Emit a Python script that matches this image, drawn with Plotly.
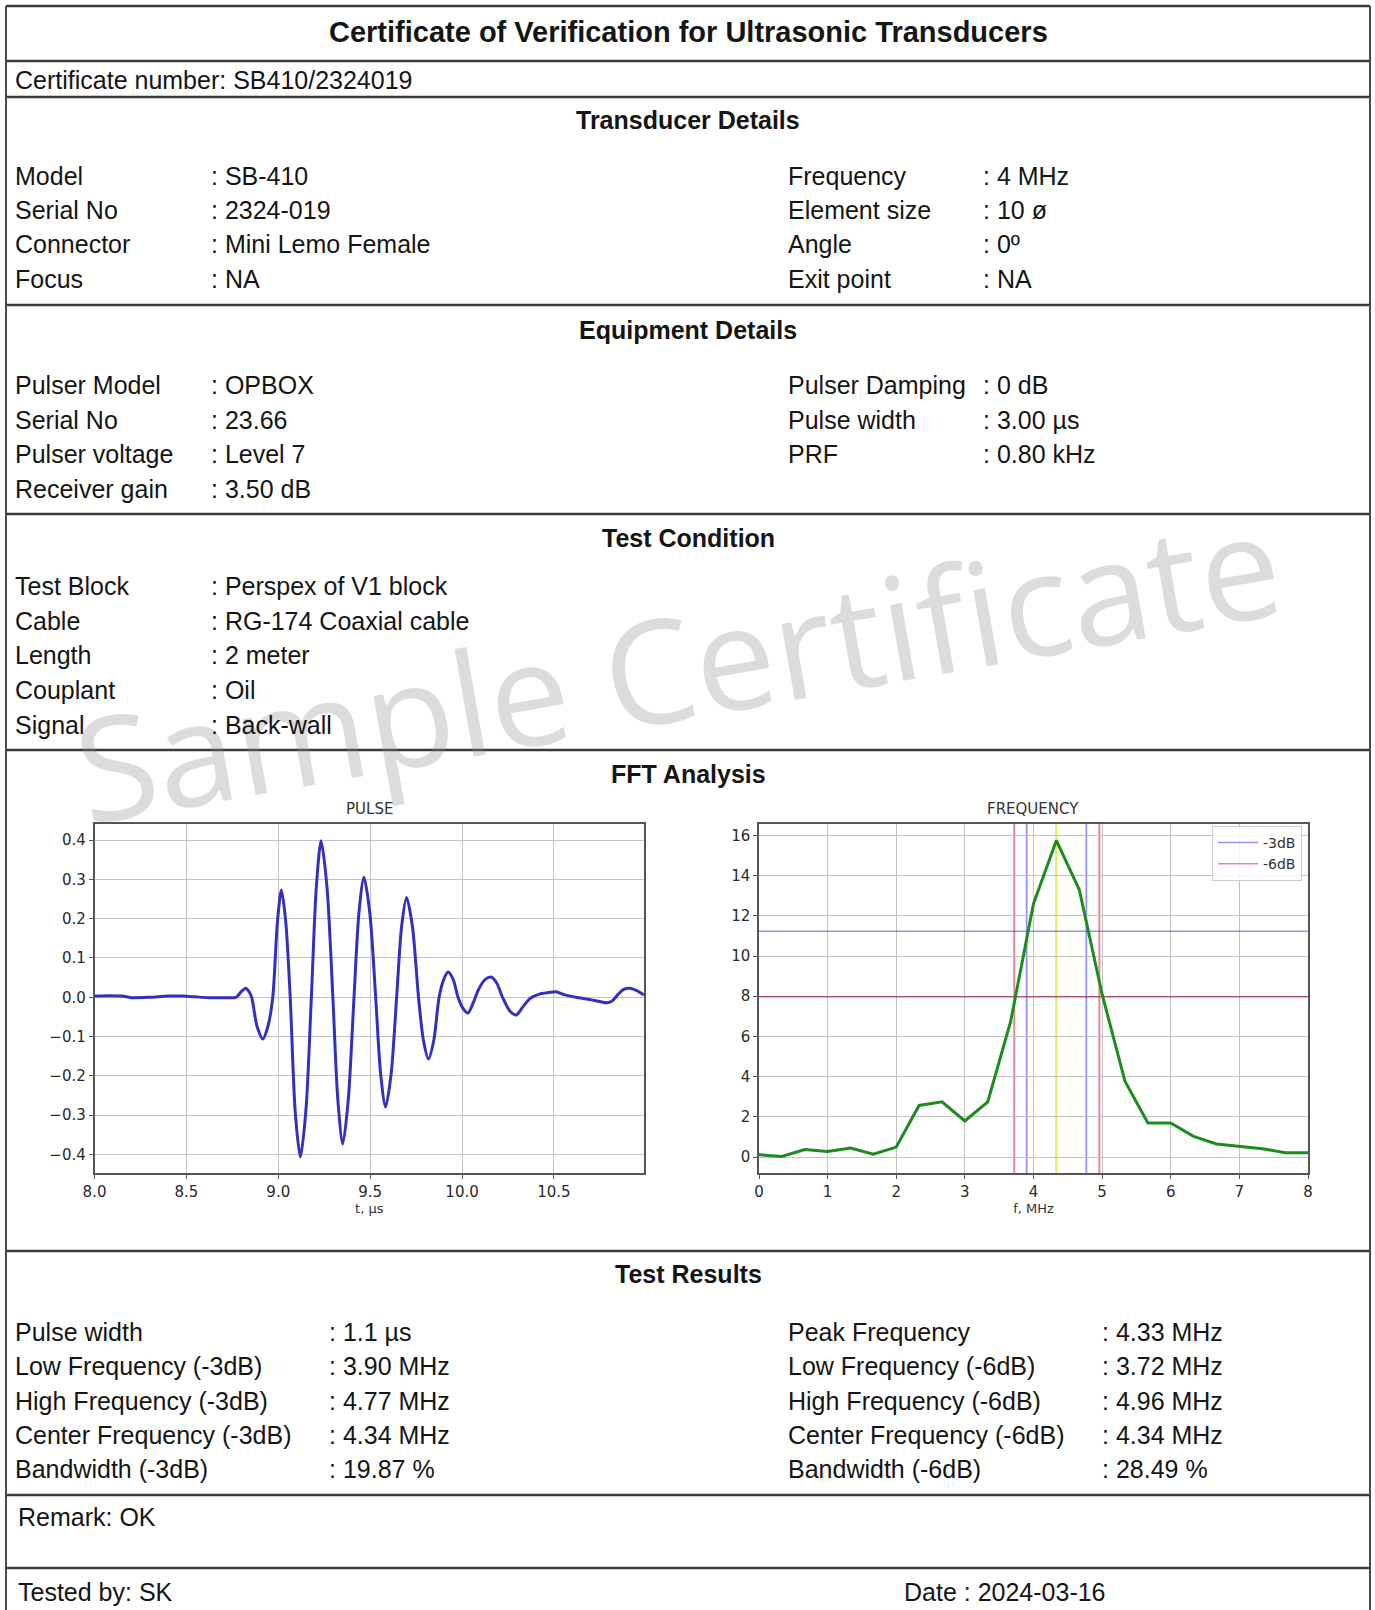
import plotly.graph_objects as go

W, H = 1375, 1610

# ---------------- data ----------------
title_text = "Certificate of Verification for Ultrasonic Transducers"
cert_number = "Certificate number: SB410/2324019"

transducer_left_labels = ["Model", "Serial No", "Connector", "Focus"]
transducer_left_values = ["SB-410", "2324-019", "Mini Lemo Female", "NA"]
transducer_right_labels = ["Frequency", "Element size", "Angle", "Exit point"]
transducer_right_values = ["4 MHz", "10 ø", "0º", "NA"]

equipment_left_labels = ["Pulser Model", "Serial No", "Pulser voltage", "Receiver gain"]
equipment_left_values = ["OPBOX", "23.66", "Level 7", "3.50 dB"]
equipment_right_labels = ["Pulser Damping", "Pulse width", "PRF"]
equipment_right_values = ["0 dB", "3.00 µs", "0.80 kHz"]

condition_labels = ["Test Block", "Cable", "Length", "Couplant", "Signal"]
condition_values = ["Perspex of V1 block", "RG-174 Coaxial cable", "2 meter", "Oil", "Back-wall"]

results_left_labels = ["Pulse width", "Low Frequency (-3dB)", "High Frequency (-3dB)",
                       "Center Frequency (-3dB)", "Bandwidth (-3dB)"]
results_left_values = ["1.1 µs", "3.90 MHz", "4.77 MHz", "4.34 MHz", "19.87 %"]
results_right_labels = ["Peak Frequency", "Low Frequency (-6dB)", "High Frequency (-6dB)",
                        "Center Frequency (-6dB)", "Bandwidth (-6dB)"]
results_right_values = ["4.33 MHz", "3.72 MHz", "4.96 MHz", "4.34 MHz", "28.49 %"]

remark_text = "Remark: OK"
tested_by_text = "Tested by: SK"
date_text = "Date : 2024-03-16"
watermark_text = "Sample Certificate"

# Pulse waveform (time in µs, amplitude)
pulse_t = [8.00, 8.08, 8.15, 8.20, 8.30, 8.40, 8.48, 8.55, 8.62, 8.70, 8.77, 8.80,
           8.823, 8.84, 8.855, 8.885, 8.916, 8.943, 8.97, 8.995, 9.017, 9.041, 9.065,
           9.092, 9.12, 9.15, 9.18, 9.207, 9.233, 9.265, 9.297, 9.324, 9.351, 9.381,
           9.412, 9.439, 9.466, 9.498, 9.53, 9.557, 9.584, 9.614, 9.644, 9.671, 9.698,
           9.73, 9.763, 9.79, 9.817, 9.846, 9.875, 9.90, 9.924, 9.952, 9.978, 10.005,
           10.032, 10.06, 10.09, 10.125, 10.16, 10.19, 10.22, 10.26, 10.295, 10.33,
           10.37, 10.42, 10.47, 10.51, 10.56, 10.62, 10.70, 10.75, 10.79, 10.82, 10.85,
           10.88, 10.913, 10.95, 10.99]
pulse_v = [0.003, 0.004, 0.003, -0.001, 0.000, 0.003, 0.003, 0.001, -0.001, -0.001, 0.000, 0.015,
           0.023, 0.015, 0.000, -0.075, -0.106, -0.075, 0.000, 0.190, 0.273, 0.190, 0.000,
           -0.290, -0.406, -0.290, 0.000, 0.280, 0.398, 0.280, 0.000, -0.260, -0.373, -0.260,
           0.000, 0.215, 0.305, 0.215, 0.000, -0.195, -0.279, -0.195, 0.000, 0.180, 0.254,
           0.180, 0.000, -0.110, -0.157, -0.110, 0.000, 0.045, 0.064, 0.045, 0.000, -0.028,
           -0.040, -0.015, 0.020, 0.045, 0.051, 0.035, 0.000, -0.035, -0.045, -0.025,
           -0.003, 0.008, 0.012, 0.014, 0.006, 0.000, -0.006, -0.011, -0.014, -0.008, 0.008,
           0.020, 0.023, 0.017, 0.006]

# FFT spectrum (MHz, amplitude)
freq_f = [0.0, 0.333, 0.667, 1.0, 1.333, 1.667, 2.0, 2.333, 2.667, 3.0, 3.333, 3.667, 4.0,
          4.333, 4.667, 5.0, 5.333, 5.667, 6.0, 6.333, 6.667, 7.0, 7.333, 7.667, 8.0]
freq_a = [0.12, 0.03, 0.38, 0.28, 0.45, 0.15, 0.50, 2.57, 2.75, 1.80, 2.75, 6.75, 12.6,
          15.75, 13.3, 8.1, 3.77, 1.70, 1.70, 1.03, 0.65, 0.55, 0.42, 0.22, 0.22]

level_3db = 11.23
level_6db = 7.98
freq_3db = [3.90, 4.77]
freq_6db = [3.72, 4.96]
peak_freq = 4.33
legend_names = ["-3dB", "-6dB"]

pulse_xticks = [8.0, 8.5, 9.0, 9.5, 10.0, 10.5]
pulse_xticklabels = ["8.0", "8.5", "9.0", "9.5", "10.0", "10.5"]
pulse_yticks = [-0.4, -0.3, -0.2, -0.1, 0.0, 0.1, 0.2, 0.3, 0.4]
pulse_yticklabels = ["−0.4", "−0.3", "−0.2", "−0.1", "0.0", "0.1", "0.2", "0.3", "0.4"]
freq_xticks = [0, 1, 2, 3, 4, 5, 6, 7, 8]
freq_yticks = [0, 2, 4, 6, 8, 10, 12, 14, 16]

# ---------------- helpers ----------------
def px(x):
    return x / W


def py(y):
    return 1 - y / H


FONT = "Liberation Sans, Arial, sans-serif"
TXT = "#151515"
annotations = []
shapes = []


def text(x, y, s, size=25, bold=False, anchor="left", color=TXT, family=FONT):
    annotations.append(dict(
        x=px(x), y=py(y), xref="paper", yref="paper", text=f"<b>{s}</b>" if bold else s,
        showarrow=False, xanchor=anchor, yanchor="middle",
        font=dict(family=family, size=size, color=color)))


def hline(y, x0=6, x1=1370, w=2.5):
    shapes.append(dict(type="line", xref="paper", yref="paper", x0=px(x0), x1=px(x1),
                       y0=py(y), y1=py(y), line=dict(color="#3a3a3a", width=w), layer="above"))


def vline(x, y0=6, y1=1610, w=2):
    shapes.append(dict(type="line", xref="paper", yref="paper", x0=px(x), x1=px(x),
                       y0=py(y0), y1=py(y1), line=dict(color="#4a4a4a", width=w), layer="above"))


# watermark first so text is drawn above it
annotations.append(dict(
    x=px(677), y=py(664), xref="paper", yref="paper", text=watermark_text, showarrow=False,
    textangle=-10, xanchor="center", yanchor="middle",
    font=dict(family="Open Sans, Noto Sans, sans-serif", size=144, color="rgba(140,140,140,0.30)")))

# ---------------- frame lines ----------------
for yy in [6, 61, 97, 305, 514, 750, 1251, 1495, 1568]:
    hline(yy)
vline(6)
vline(1370)

# ---------------- texts ----------------
LX, LV, RX, RV = 13, 209, 786, 981

text(688, 32, title_text, size=29, bold=True, anchor="center")
text(13, 80, cert_number)

text(688, 120, "Transducer Details", bold=True, anchor="center")
rows = [176, 210, 244, 279]
for i, yy in enumerate(rows):
    text(LX, yy, transducer_left_labels[i])
    text(LV, yy, ": " + transducer_left_values[i])
    text(RX, yy, transducer_right_labels[i])
    text(RV, yy, ": " + transducer_right_values[i])

text(688, 330, "Equipment Details", bold=True, anchor="center")
rows = [385, 420, 454, 489]
for i, yy in enumerate(rows):
    text(LX, yy, equipment_left_labels[i])
    text(LV, yy, ": " + equipment_left_values[i])
for i, yy in enumerate(rows[:3]):
    text(RX, yy, equipment_right_labels[i])
    text(RV, yy, ": " + equipment_right_values[i])

text(688, 538, "Test Condition", bold=True, anchor="center")
rows = [586, 621, 655, 690, 725]
for i, yy in enumerate(rows):
    text(LX, yy, condition_labels[i])
    text(LV, yy, ": " + condition_values[i])

text(688, 774, "FFT Analysis", bold=True, anchor="center")

text(688, 1274, "Test Results", bold=True, anchor="center")
rows = [1332, 1366, 1401, 1435, 1469]
for i, yy in enumerate(rows):
    text(LX, yy, results_left_labels[i])
    text(327, yy, ": " + results_left_values[i])
    text(RX, yy, results_right_labels[i])
    text(1100, yy, ": " + results_right_values[i])

text(16, 1517, remark_text)
text(16, 1592, tested_by_text)
text(902, 1592, date_text)

# chart titles
PF = "DejaVu Sans, sans-serif"
text(369, 809, "PULSE", size=15, anchor="center", color="#333", family=PF)
text(1033, 809, "FREQUENCY", size=15, anchor="center", color="#333", family=PF)

# ---------------- figure ----------------
fig = go.Figure()

fig.add_trace(go.Scatter(x=pulse_t, y=pulse_v, mode="lines", xaxis="x", yaxis="y",
                         line=dict(color="#3430bf", width=3, shape="spline", smoothing=0.8),
                         showlegend=False, hoverinfo="skip"))

C3 = "rgba(60,60,235,0.55)"
C6 = "rgba(200,40,60,0.55)"

# threshold lines (drawn as traces so they sit under the spectrum curve)
fig.add_trace(go.Scatter(x=[freq_f[0], freq_f[-1]], y=[level_3db, level_3db], mode="lines",
                         xaxis="x2", yaxis="y2", line=dict(color=C3, width=1.5),
                         name=legend_names[0], hoverinfo="skip"))
fig.add_trace(go.Scatter(x=[freq_f[0], freq_f[-1]], y=[level_6db, level_6db], mode="lines",
                         xaxis="x2", yaxis="y2", line=dict(color="rgba(160,20,50,0.65)", width=1.5),
                         showlegend=False, hoverinfo="skip"))
fig.add_trace(go.Scatter(x=[None], y=[None], mode="lines", xaxis="x2", yaxis="y2",
                         line=dict(color=C6, width=1.5), name=legend_names[1]))

for f in freq_3db:
    shapes.append(dict(type="line", xref="x2", yref="y2 domain", x0=f, x1=f, y0=0, y1=1,
                       line=dict(color=C3, width=1.8), layer="below"))
for f in freq_6db:
    shapes.append(dict(type="line", xref="x2", yref="y2 domain", x0=f, x1=f, y0=0, y1=1,
                       line=dict(color=C6, width=2), layer="below"))
shapes.append(dict(type="line", xref="x2", yref="y2 domain", x0=peak_freq, x1=peak_freq, y0=0, y1=1,
                   line=dict(color="rgba(225,225,40,0.75)", width=2), layer="below"))

fig.add_trace(go.Scatter(x=freq_f, y=freq_a, mode="lines", xaxis="x2", yaxis="y2",
                         line=dict(color="#1c8c1c", width=3), showlegend=False, hoverinfo="skip"))

axis_common = dict(showgrid=True, gridcolor="#c4c4c4", gridwidth=1, showline=True, mirror=True,
                   linecolor="#555", linewidth=1.5, ticks="outside", ticklen=4, tickcolor="#555",
                   tickfont=dict(family=PF, size=15, color="#2a2a2a"), zeroline=False, automargin=False)

y_dom = [py(1173), py(823.5)]
fig.update_layout(
    width=W, height=H, margin=dict(l=0, r=0, t=0, b=0, pad=0, autoexpand=False),
    paper_bgcolor="white", plot_bgcolor="rgba(0,0,0,0)",
    xaxis=dict(domain=[px(94.5), px(644)], range=[8, 10.99], tickvals=pulse_xticks,
               ticktext=pulse_xticklabels, anchor="y",
               title=dict(text="t, µs", font=dict(family=PF, size=13, color="#333"), standoff=2),
               **axis_common),
    yaxis=dict(domain=y_dom, range=[-0.447, 0.442], tickvals=pulse_yticks, ticktext=pulse_yticklabels,
               anchor="x", **axis_common),
    xaxis2=dict(domain=[px(759), px(1308)], range=[0, 8], tickvals=freq_xticks, anchor="y2",
                title=dict(text="f, MHz", font=dict(family=PF, size=13, color="#333"), standoff=2),
                **axis_common),
    yaxis2=dict(domain=y_dom, range=[-0.79, 16.59], tickvals=freq_yticks, anchor="x2", **axis_common),
    legend=dict(x=px(1302), y=py(826), xanchor="right", yanchor="top",
                bgcolor="rgba(255,255,255,0.85)", bordercolor="#cccccc", borderwidth=1,
                font=dict(family=PF, size=14, color="#333"), itemwidth=40, tracegroupgap=0),
    annotations=annotations,
    shapes=shapes,
)

fig.write_html("out.html", config={"displayModeBar": False},
               post_script="document.body.style.margin='0px';document.body.style.overflow='hidden';")
